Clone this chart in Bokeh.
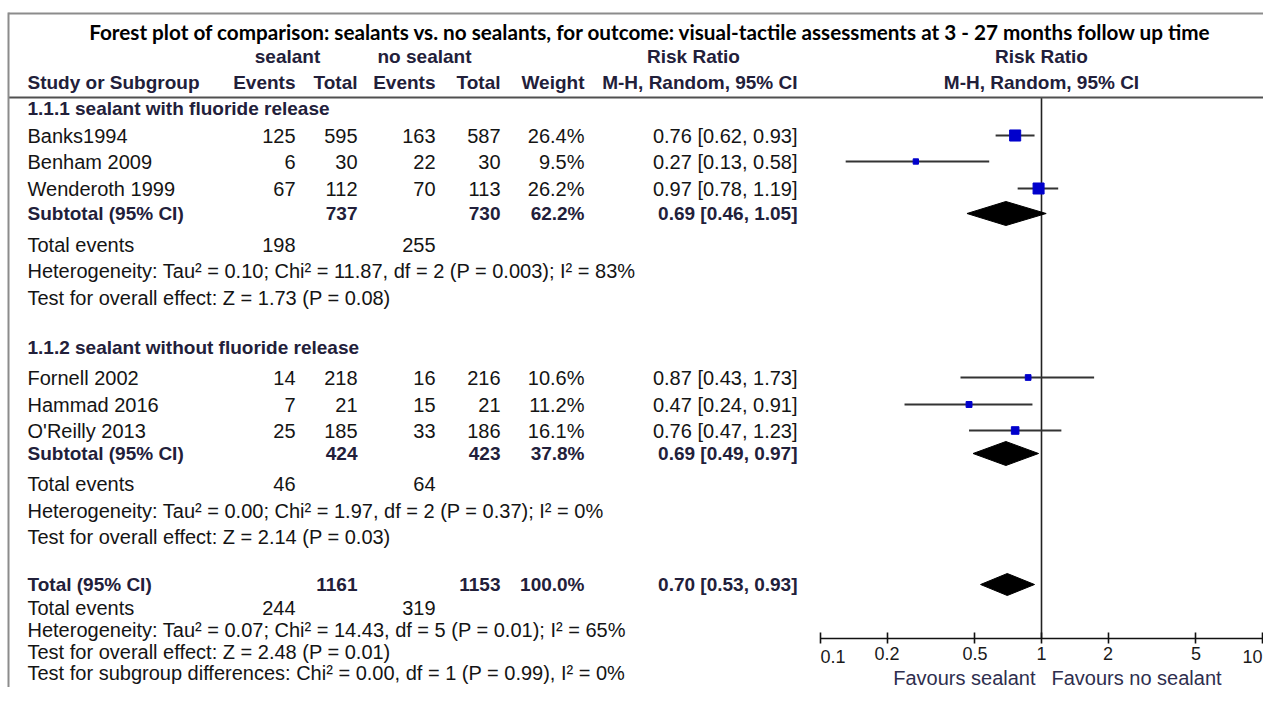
from bokeh.plotting import figure
from bokeh.models import (Range1d, LogAxis, FixedTicker, CustomJSTickFormatter, Label,
                          BoxAnnotation)
from bokeh.embed import file_html
from bokeh.resources import INLINE

# ---------------- data ----------------
title = ("Forest plot of comparison: sealants vs. no sealants, for outcome: "
         "visual-tactile assessments at 3 - 27 months follow up time")
studies = ["Banks1994", "Benham 2009", "Wenderoth 1999",
           "Fornell 2002", "Hammad 2016", "O'Reilly 2013"]
seal_events = [125, 6, 67, 14, 7, 25]
seal_total = [595, 30, 112, 218, 21, 185]
ctrl_events = [163, 22, 70, 16, 15, 33]
ctrl_total = [587, 30, 113, 216, 21, 186]
weights = [26.4, 9.5, 26.2, 10.6, 11.2, 16.1]
rr = [0.76, 0.27, 0.97, 0.87, 0.47, 0.76]
rr_lo = [0.62, 0.13, 0.78, 0.43, 0.24, 0.47]
rr_hi = [0.93, 0.58, 1.19, 1.73, 0.91, 1.23]

groups = ["1.1.1 sealant with fluoride release", "1.1.2 sealant without fluoride release"]
sub_seal_total = [737, 424]
sub_ctrl_total = [730, 423]
sub_weight = [62.2, 37.8]
sub_rr = [0.69, 0.69]
sub_lo = [0.46, 0.49]
sub_hi = [1.05, 0.97]
sub_seal_events = [198, 46]
sub_ctrl_events = [255, 64]
sub_het = ["Heterogeneity: Tau² = 0.10; Chi² = 11.87, df = 2 (P = 0.003); I² = 83%",
           "Heterogeneity: Tau² = 0.00; Chi² = 1.97, df = 2 (P = 0.37); I² = 0%"]
sub_test = ["Test for overall effect: Z = 1.73 (P = 0.08)",
            "Test for overall effect: Z = 2.14 (P = 0.03)"]

tot_seal_total = 1161
tot_ctrl_total = 1153
tot_weight = 100.0
tot_rr, tot_lo, tot_hi = 0.70, 0.53, 0.93
tot_seal_events = 244
tot_ctrl_events = 319
tot_het = "Heterogeneity: Tau² = 0.07; Chi² = 14.43, df = 5 (P = 0.01); I² = 65%"
tot_test = "Test for overall effect: Z = 2.48 (P = 0.01)"
subgroup_test = "Test for subgroup differences: Chi² = 0.00, df = 1 (P = 0.99), I² = 0%"

axis_ticks = [0.1, 0.2, 0.5, 1, 2, 5, 10]
axis_tick_labels = ["0.1", "0.2", "0.5", "1", "2", "5", "10"]
favours_left = "Favours sealant"
favours_right = "Favours no sealant"

# ---------------- layout ----------------
W, H = 1263, 687
X_ONE = 1041           # pixel of RR = 1
DECADE = 221           # pixels per log decade
AXIS_Y = 638

NAME_X = 27
C_EV1, C_TOT1, C_EV2, C_TOT2, C_W, C_RR = 295, 357, 435, 500, 584, 797

group_y = [108, 347]
study_y = [135, 161, 188, 377, 404, 430]
subtotal_y = [213, 453]
events_y = [244, 483]
het_y = [270, 510]
test_y = [297, 536]
total_y, total_events_y, total_het_y, total_test_y, subgroup_y = 584, 607, 629, 651, 672

TXT = "#141414"
BOLD = "#22203a"
FONT = "Liberation Sans"
REG_SIZE = 20
BOLD_SIZE = 19

p = figure(width=W, height=H, output_backend="svg", toolbar_location=None,
           x_axis_type="log", x_axis_location=None, y_axis_location=None,
           x_range=Range1d(10 ** (-X_ONE / DECADE), 10 ** ((W - X_ONE) / DECADE)),
           y_range=Range1d(H, 0),
           min_border_left=0, min_border_right=0, min_border_top=0, min_border_bottom=0)
p.outline_line_color = None
p.background_fill_color = "white"
p.border_fill_color = "white"
p.grid.visible = False


def txt(x, y, s, align="left", bold=False, size=None, color=None, font=FONT,
        units="screen", dx=0):
    p.add_layout(Label(x=x, y=y, x_units=units, y_units="data", text=s, x_offset=dx,
                       text_align=align, text_baseline="middle", text_font=font,
                       text_font_size=f"{size or (BOLD_SIZE if bold else REG_SIZE)}px",
                       text_font_style="bold" if bold else "normal",
                       text_color=color or (BOLD if bold else TXT)))


def ci(v, lo, hi):
    return f"{v:.2f} [{lo:.2f}, {hi:.2f}]"


# frame lines
p.add_layout(BoxAnnotation(left=8, right=W, left_units="screen", right_units="screen",
                           top=12, bottom=14, fill_color="#8c8c8c", fill_alpha=1,
                           line_color=None))
p.add_layout(BoxAnnotation(left=8, right=W, left_units="screen", right_units="screen",
                           top=96, bottom=98, fill_color="#505050", fill_alpha=1,
                           line_color=None))
p.add_layout(BoxAnnotation(left=7, right=9, left_units="screen", right_units="screen",
                           top=12, bottom=H, fill_color="#8c8c8c", fill_alpha=1,
                           line_color=None))

# headers
txt(650, 31, title, align="center", bold=True, size=20.7, color="#000000", font="Lato")
txt(287, 56, "sealant", align="center", bold=True)
txt(424, 56, "no sealant", align="center", bold=True)
txt(693, 56, "Risk Ratio", align="center", bold=True)
txt(1, 56, "Risk Ratio", align="center", bold=True, units="data")
txt(NAME_X, 82, "Study or Subgroup", bold=True)
for cx, s in [(C_EV1, "Events"), (C_TOT1, "Total"), (C_EV2, "Events"),
              (C_TOT2, "Total"), (C_W, "Weight"), (C_RR, "M-H, Random, 95% CI")]:
    txt(cx, 82, s, align="right", bold=True)
txt(1, 82, "M-H, Random, 95% CI", align="center", bold=True, units="data")

# studies
for i, name in enumerate(studies):
    y = study_y[i]
    txt(NAME_X, y, name)
    txt(C_EV1, y, str(seal_events[i]), align="right")
    txt(C_TOT1, y, str(seal_total[i]), align="right")
    txt(C_EV2, y, str(ctrl_events[i]), align="right")
    txt(C_TOT2, y, str(ctrl_total[i]), align="right")
    txt(C_W, y, f"{weights[i]:.1f}%", align="right")
    txt(C_RR, y, ci(rr[i], rr_lo[i], rr_hi[i]), align="right")

# subgroups
for g, gname in enumerate(groups):
    txt(NAME_X, group_y[g], gname, bold=True)
    y = subtotal_y[g]
    txt(NAME_X, y, "Subtotal (95% CI)", bold=True)
    txt(C_TOT1, y, str(sub_seal_total[g]), align="right", bold=True)
    txt(C_TOT2, y, str(sub_ctrl_total[g]), align="right", bold=True)
    txt(C_W, y, f"{sub_weight[g]:.1f}%", align="right", bold=True)
    txt(C_RR, y, ci(sub_rr[g], sub_lo[g], sub_hi[g]), align="right", bold=True)
    txt(NAME_X, events_y[g], "Total events")
    txt(C_EV1, events_y[g], str(sub_seal_events[g]), align="right")
    txt(C_EV2, events_y[g], str(sub_ctrl_events[g]), align="right")
    txt(NAME_X, het_y[g], sub_het[g])
    txt(NAME_X, test_y[g], sub_test[g])

# overall
txt(NAME_X, total_y, "Total (95% CI)", bold=True)
txt(C_TOT1, total_y, str(tot_seal_total), align="right", bold=True)
txt(C_TOT2, total_y, str(tot_ctrl_total), align="right", bold=True)
txt(C_W, total_y, f"{tot_weight:.1f}%", align="right", bold=True)
txt(C_RR, total_y, ci(tot_rr, tot_lo, tot_hi), align="right", bold=True)
txt(NAME_X, total_events_y, "Total events")
txt(C_EV1, total_events_y, str(tot_seal_events), align="right")
txt(C_EV2, total_events_y, str(tot_ctrl_events), align="right")
txt(NAME_X, total_het_y, tot_het)
txt(NAME_X, total_test_y, tot_test)
txt(NAME_X, subgroup_y, subgroup_test)

# line of no effect
p.segment(x0=[1], y0=[97], x1=[1], y1=[AXIS_Y], line_color="#222222", line_width=1.6)

# confidence intervals and study squares
p.segment(x0=rr_lo, y0=study_y, x1=rr_hi, y1=study_y, line_color="#333333", line_width=2)
p.scatter(x=rr, y=study_y, marker="square", size=[2.1 + 0.34 * w for w in weights],
          fill_color="#0000CC", line_color="#0000CC")

# diamonds
d_lo = sub_lo + [tot_lo]
d_est = sub_rr + [tot_rr]
d_hi = sub_hi + [tot_hi]
d_y = subtotal_y + [total_y]
d_h = [12, 12, 11]
p.patches(xs=[[a, b, c, b] for a, b, c in zip(d_lo, d_est, d_hi)],
          ys=[[y, y - h, y, y + h] for y, h in zip(d_y, d_h)],
          fill_color="black", line_color="black")

# axis (drawn at a fixed location inside the frame)
ax = LogAxis(bounds=(axis_ticks[0], axis_ticks[-1]), fixed_location=AXIS_Y,
             ticker=FixedTicker(ticks=axis_ticks, minor_ticks=[]),
             formatter=CustomJSTickFormatter(
                 code="return (index == 0 || index == ticks.length - 1) ? '' : String(tick)"))
ax.axis_line_color = "#111111"
ax.axis_line_width = 1.6
ax.major_tick_line_color = "#111111"
ax.major_tick_line_width = 1.6
ax.major_tick_in = 6
ax.major_tick_out = 5
ax.minor_tick_in = 0
ax.minor_tick_out = 0
ax.major_label_standoff = 3
ax.major_label_text_font = FONT
ax.major_label_text_font_size = "18px"
ax.major_label_text_color = "#1a1a1a"
p.add_layout(ax, "below")

# end tick labels kept inside the axis span
txt(axis_ticks[0], 656, axis_tick_labels[0], align="left", size=18, color="#1a1a1a",
    units="data")
txt(axis_ticks[-1], 656, axis_tick_labels[-1], align="right", size=18, color="#1a1a1a",
    units="data")

txt(1, 677, favours_left, align="right", size=20, color="#2e2e4e", units="data", dx=-6)
txt(1, 677, favours_right, align="left", size=20, color="#2e2e4e", units="data", dx=10)

open("out.html", "w").write(file_html(p, INLINE))
